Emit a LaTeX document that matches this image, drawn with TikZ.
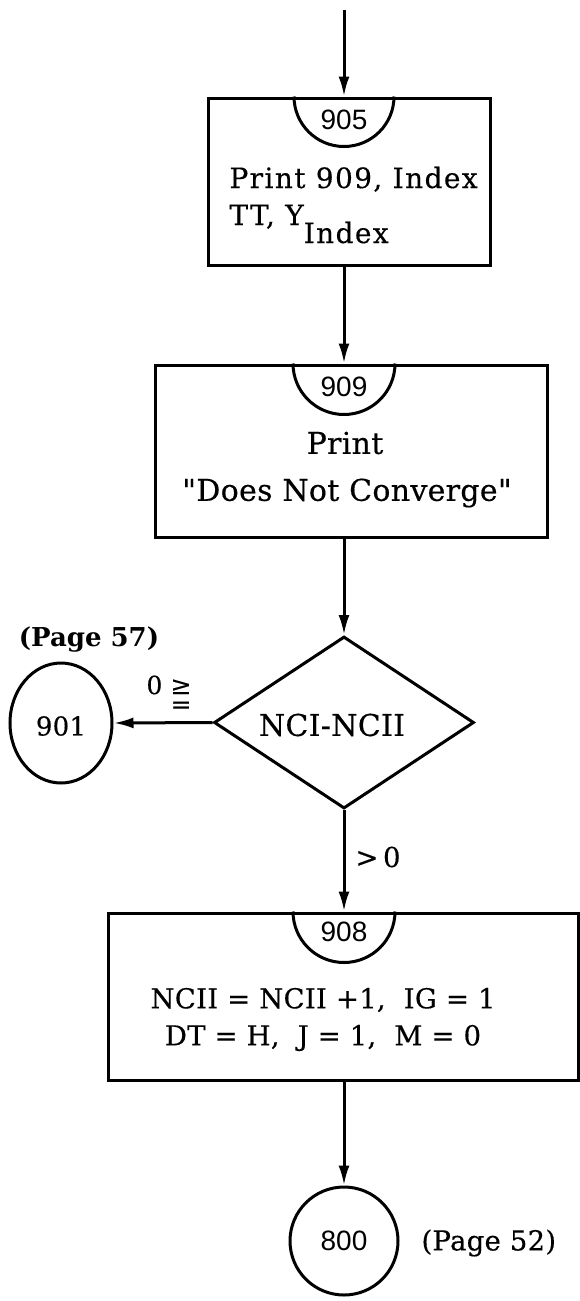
\documentclass[tikz,border=0pt]{standalone}
\usepackage{fontspec}
\setmainfont{DejaVu Serif}
\newfontfamily\numfont{Liberation Sans}
\newfontfamily\bodyA[LetterSpace=5,FakeBold=0.4]{DejaVu Serif}
\newfontfamily\bodyB[LetterSpace=1,FakeBold=0.4]{DejaVu Serif}
\usetikzlibrary{shapes.geometric,arrows.meta}
\begin{document}
\begin{tikzpicture}[x=1pt,y=-1pt,
  line width=3pt,
  >={Latex[length=20pt,width=11pt]},
  procbox/.style={draw, rectangle, inner sep=0pt, line width=3pt},
  txt/.style={inner sep=0pt, font=\bodyA\fontsize{28}{32}\selectfont},
  bigtxt/.style={inner sep=0pt, font=\bodyB\fontsize{30}{34}\selectfont},
  midtxt/.style={inner sep=0pt, font=\bodyB\fontsize{27.5}{32}\selectfont},
  numtxt/.style={inner sep=0pt, font=\numfont\fontsize{28}{30}\selectfont},
  connector/.style={draw, inner sep=0pt, line width=3pt}
]
\useasboundingbox (0,0) rectangle (580,1301);

% entry point
\coordinate (start) at (344,10);

% box 905
\node[procbox, minimum width=282, minimum height=167] (b905) at (349,181.5) {};
\draw (b905.north -| start) ++(-50,0) arc[start angle=180, end angle=0, radius=50];
\node[numtxt] (n905) at (344,120) {905};
\node[txt, anchor=base west] (t905a) at (228,188) {Print 909, Index};
\node[txt, anchor=base west] (t905b) at (228,225) {TT, Y\raisebox{-18pt}{Index}};

% box 909
\node[procbox, minimum width=392, minimum height=172] (b909) at (351,451) {};
\draw (b909.north -| start) ++(-51,0) arc[start angle=180, end angle=0, radius=51];
\node[numtxt] (n909) at (344,387) {909};
\node[bigtxt] (t909a) at (345,443) {Print};
\node[bigtxt] (t909b) at (347,493) {"Does Not Converge"};

% decision
\node[draw, diamond, inner sep=0pt, minimum width=260, minimum height=172, line width=3pt] (dia) at (344,722.5) {};
\node[bigtxt] (tdia) at (332,725) {NCI-NCII};

% connector 901
\node[connector, ellipse, minimum width=102, minimum height=120] (c901) at (61,723) {};
\node[midtxt, font=\bodyB\fontsize{26}{30}\selectfont] (n901) at (61,726) {901};
\node[inner sep=0pt, font=\bfseries\fontsize{26}{30}\selectfont] (p57) at (89,640) {(Page 57)};
\node[inner sep=0pt, font=\bodyB\fontsize{25}{28}\selectfont, align=left, anchor=north west] (lge) at (145,674)
  {0 ≥\\[-9pt]\hphantom{0 }=};
\node[midtxt] (lgt) at (378,857) {>\,0};

% box 908
\node[procbox, minimum width=470, minimum height=167] (b908) at (343,996.5) {};
\draw (b908.north -| start) ++(-51,0) arc[start angle=180, end angle=0, radius=51];
\node[numtxt] (n908) at (344,932) {908};
\node[midtxt] (t908a) at (323,1000) {NCII = NCII +1,\ \ IG = 1};
\node[midtxt] (t908b) at (323,1038) {DT = H,\ \ J = 1,\ \ M = 0};

% connector 800
\node[connector, circle, minimum size=108] (c800) at (344,1241) {};
\node[numtxt] (n800) at (344,1241) {800};
\node[midtxt, anchor=west] (p52) at (420,1243) {(Page 52)};

% connectors
\draw[->] (start) -- (start |- b905.north);
\draw[->] (b905.south -| start) -- (b909.north -| start);
\draw[->] (b909.south -| start) -- (dia.north);
\draw[->] (dia.west) -- (c901.east);
\draw[->] (dia.south) -- (b908.north -| dia);
\draw[->] (b908.south -| c800) -- (c800.north);
\end{tikzpicture}
\end{document}
